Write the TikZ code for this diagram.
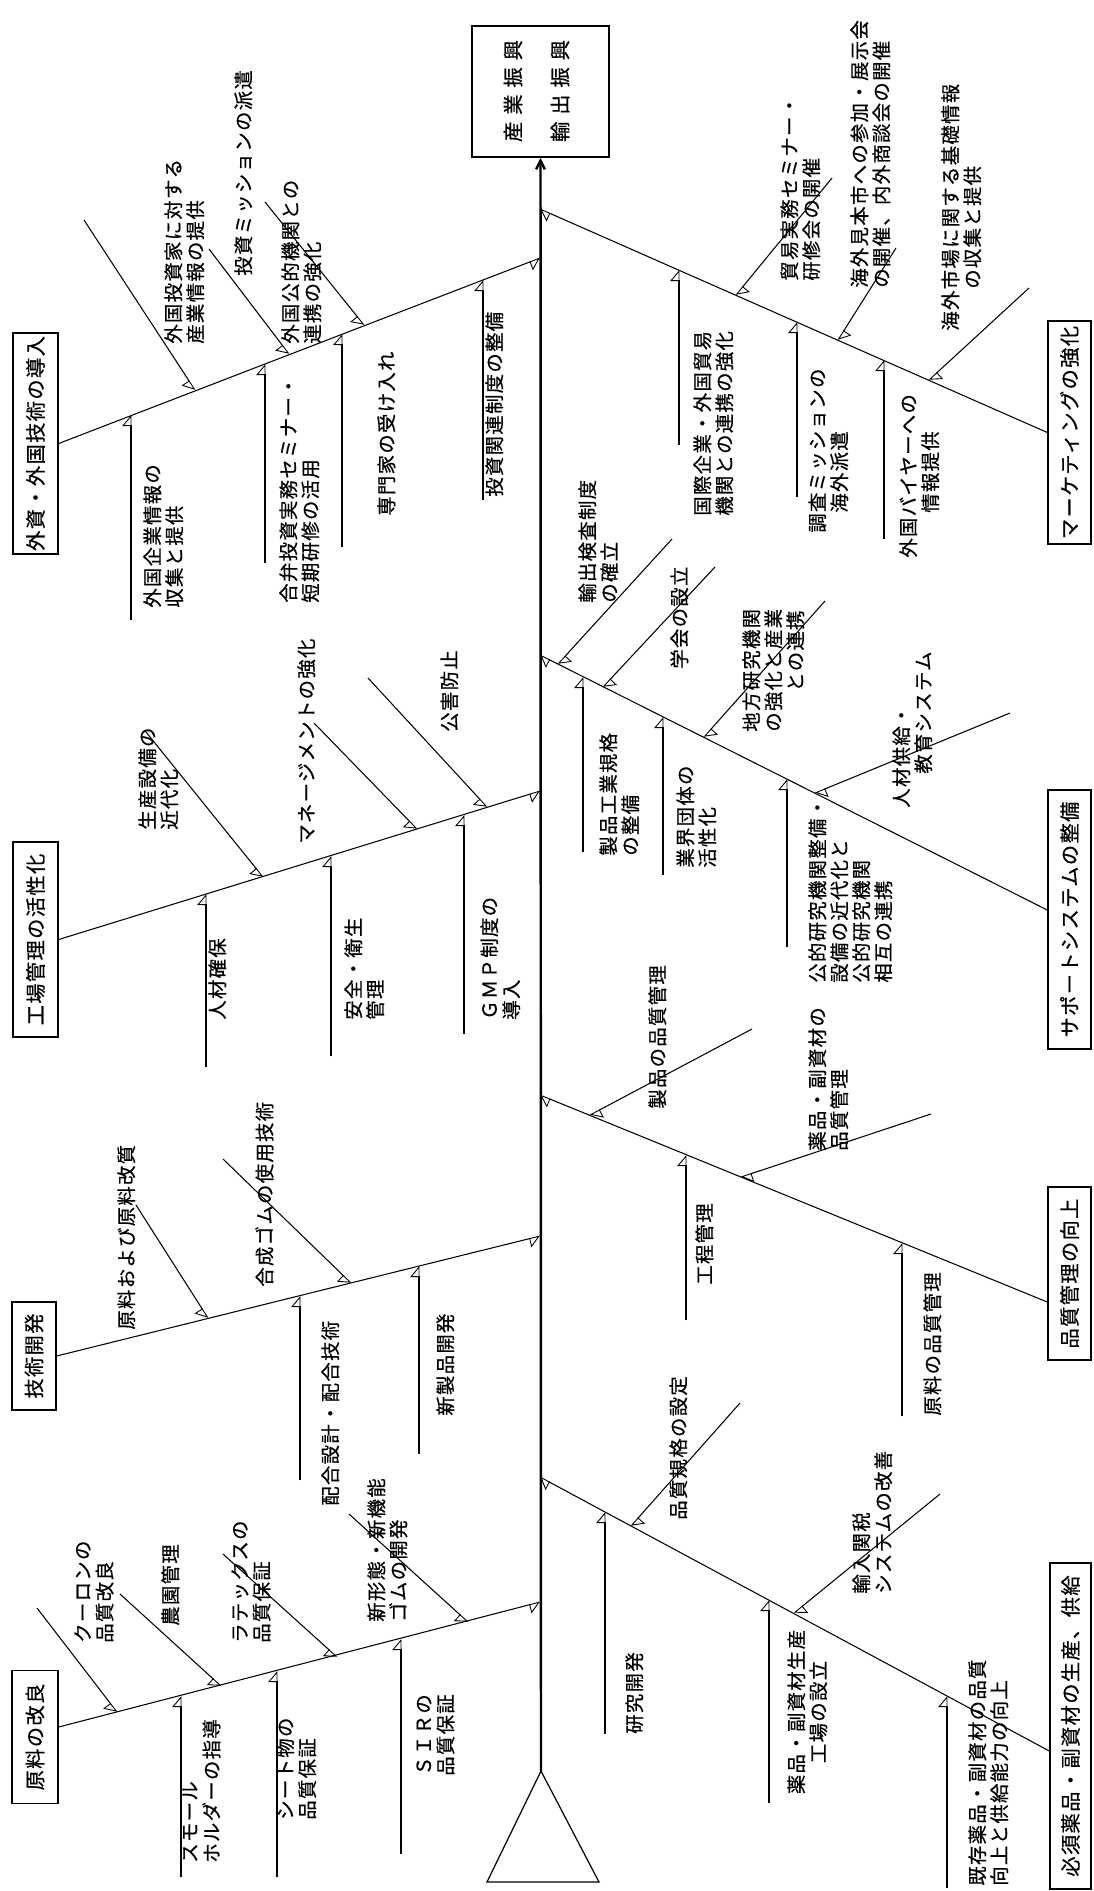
\documentclass[tikz,border=0pt]{standalone}
\usepackage{fontspec}
\setmainfont{Noto Sans CJK JP}
\newfontfamily\jpf[LetterSpace=7,FakeBold=0.6]{Noto Sans CJK JP}
\usetikzlibrary{arrows.meta,calc}
\newcommand\lblfont{\jpf\fontsize{11pt}{12.5pt}\selectfont}
\newcommand\catfont{\jpf\fontsize{11.5pt}{13pt}\selectfont}
\begin{document}
\begin{tikzpicture}[x=0.02cm,y=-0.02cm,
  bone/.style={line width=0.6pt},
  vbone/.style={line width=0.8pt},
  spine/.style={line width=1.4pt},
  hl/.style={-{Triangle[open,left,length=6pt,width=10pt,line width=0.5pt]}},
  hr/.style={-{Triangle[open,right,length=6pt,width=10pt,line width=0.5pt]}},
  lbl/.style={rotate=90,inner sep=0pt,font=\lblfont,align=left,anchor=north west},
  catbox/.style={draw,line width=0.8pt,rotate=90,inner sep=0pt,font=\catfont}]
\useasboundingbox (0,0) rectangle (1093,1891);

% head box
\node[draw,line width=0.9pt,minimum width=2.74cm,minimum height=2.62cm,inner sep=0pt] (head) at (540.5,91.5) {};
\node[rotate=90,font=\catfont,inner sep=0pt] (head1) at (513,91) {産\hspace{0.14cm}業\hspace{0.14cm}振\hspace{0.14cm}興};
\node[rotate=90,font=\catfont,inner sep=0pt] (head2) at (560,91) {輸\hspace{0.14cm}出\hspace{0.14cm}振\hspace{0.14cm}興};

% category boxes
\node[catbox,minimum width=4.42cm,minimum height=0.9cm] (box1) at (35.5,443.5) {外資・外国技術の導入};
\node[catbox,minimum width=3.9cm,minimum height=0.9cm] (box2) at (35.5,939.5) {工場管理の活性化};
\node[catbox,minimum width=2.16cm,minimum height=0.88cm] (box3) at (34,1356) {技術開発};
\node[catbox,minimum width=2.66cm,minimum height=0.92cm] (box4) at (35,1737) {原料の改良};
\node[catbox,minimum width=4.46cm,minimum height=0.86cm] (box5) at (1069.5,432.5) {マーケティングの強化};
\node[catbox,minimum width=5.18cm,minimum height=0.86cm] (box6) at (1069.5,919.5) {サポートシステムの整備};
\node[catbox,minimum width=3.46cm,minimum height=0.86cm] (box7) at (1069.5,1273.5) {品質管理の向上};
\node[catbox,minimum width=6.52cm,minimum height=0.82cm] (box8) at (1070.5,1726) {必須薬品・副資材の生産、供給};

% spine and tail
\coordinate (apex) at (541,1771);
\coordinate (tl) at (487,1882);
\coordinate (tr) at (599,1882);
\draw[line width=0.7pt] (apex) -- (tl) -- (tr) -- cycle;
\draw[spine,-{Straight Barb[length=5pt,width=5pt]}] (apex) -- (head.south);

% spine points
\coordinate (sp1) at (540,258);
\coordinate (sp2) at (540,791);
\coordinate (sp3) at (540,1236);
\coordinate (sp4) at (540,1602);
\coordinate (sp5) at (540,209);
\coordinate (sp6) at (540,655);
\coordinate (sp7) at (540,1095);
\coordinate (sp8) at (540,1477);

% main bones
\draw[bone,hr] (box1.south) -- (sp1);
\draw[bone,hr] (box2.south) -- (sp2);
\draw[bone,hr] (box3.south) -- (sp3);
\draw[bone,hr] ($(box4.south)+(0,-10)$) -- (sp4);
\draw[bone,hl] (box5.north) -- (sp5);
\draw[bone,hl] ($(box6.north)+(0,-9.5)$) -- (sp6);
\draw[bone,hl] ($(box7.north)+(0,28.5)$) -- (sp7);
\draw[bone,hl] ($(box8.north)+(0,25)$) -- (sp8);

% ---- branch 1 ----
\coordinate (a1x) at (84,220);   \coordinate (a1y) at (195,390);
\coordinate (a2x) at (209,249);  \coordinate (a2y) at (289,354);
\coordinate (a3x) at (265,202);  \coordinate (a3y) at (364,325);
\coordinate (b1x) at (131,620);  \coordinate (b1y) at (131,415);
\coordinate (b2x) at (265,563);  \coordinate (b2y) at (265,364);
\coordinate (b3x) at (342,547);  \coordinate (b3y) at (342,334);
\coordinate (b4x) at (483,500);  \coordinate (b4y) at (483,280);
\foreach \n in {a1,a2,a3} \draw[bone,hr] (\n x) -- (\n y);
\foreach \n in {b1,b2,b3,b4} \draw[vbone,hl] (\n x) -- (\n y);
\node[lbl] (tA1) at (164,344) {外国投資家に対する\\産業情報の提供};
\node[lbl] (tA2) at (281,344) {外国公的機関との\\連携の強化};
\node[lbl] (tA3) at (234,276) {投資ミッションの派遣};
\node[lbl] (tB1) at (143,608) {外国企業情報の\\収集と提供};
\node[lbl] (tB2) at (279,603) {合弁投資実務セミナー・\\短期研修の活用};
\node[lbl] (tB3) at (377,516) {専門家の受け入れ};
\node[lbl] (tB4) at (485,497) {投資関連制度の整備};

% ---- branch 2 ----
\coordinate (c1x) at (146,732);  \coordinate (c1y) at (263,877);
\coordinate (c2x) at (314,723);  \coordinate (c2y) at (417,829);
\coordinate (c3x) at (368,678);  \coordinate (c3y) at (487,807);
\coordinate (d1x) at (206,1067); \coordinate (d1y) at (206,894);
\coordinate (d2x) at (331,1056); \coordinate (d2y) at (331,856);
\coordinate (d3x) at (464,1034); \coordinate (d3y) at (464,815);
\foreach \n in {c1,c2,c3} \draw[bone,hr] (\n x) -- (\n y);
\foreach \n in {d1,d2,d3} \draw[vbone,hl] (\n x) -- (\n y);
\node[lbl] (tC1) at (138,830) {生産設備の\\近代化};
\node[lbl] (tC2) at (297,844) {マネージメントの強化};
\node[lbl] (tC3) at (440,732) {公害防止};
\node[lbl] (tD1) at (208,1020) {人材確保};
\node[lbl] (tD2) at (344,1020) {安全・衛生\\管理};
\node[lbl] (tD3) at (480,1020) {ＧＭＰ制度の\\導入};

% ---- branch 3 ----
\coordinate (e1x) at (136,1205); \coordinate (e1y) at (208,1318);
\coordinate (e2x) at (223,1159); \coordinate (e2y) at (351,1283);
\coordinate (f1x) at (300,1480); \coordinate (f1y) at (300,1296);
\coordinate (f2x) at (419,1454); \coordinate (f2y) at (419,1266);
\foreach \n in {e1,e2} \draw[bone,hr] (\n x) -- (\n y);
\foreach \n in {f1,f2} \draw[vbone,hl] (\n x) -- (\n y);
\node[lbl] (tE1) at (117,1330) {原料および原料改質};
\node[lbl] (tE2) at (255,1287) {合成ゴムの使用技術};
\node[lbl] (tF1) at (321,1506) {配合設計・配合技術};
\node[lbl] (tF2) at (436,1416) {新製品開発};

% ---- branch 4 ----
\coordinate (g1x) at (37,1608);  \coordinate (g1y) at (117,1712);
\coordinate (g2x) at (120,1594); \coordinate (g2y) at (221,1686);
\coordinate (g3x) at (223,1554); \coordinate (g3y) at (337,1657);
\coordinate (g4x) at (349,1514); \coordinate (g4y) at (468,1622);
\coordinate (h1x) at (181,1877); \coordinate (h1y) at (181,1696);
\coordinate (h2x) at (277,1877); \coordinate (h2y) at (277,1671);
\coordinate (h3x) at (401,1854); \coordinate (h3y) at (401,1639);
\foreach \n in {g1,g2,g3,g4} \draw[bone,hr] (\n x) -- (\n y);
\foreach \n in {h1,h2,h3} \draw[vbone,hl] (\n x) -- (\n y);
\node[lbl] (tG1) at (74,1643) {クーロンの\\品質改良};
\node[lbl] (tG2) at (161,1626) {農園管理};
\node[lbl] (tG3) at (231,1643) {ラテックスの\\品質保証};
\node[lbl] (tG4) at (367,1622) {新形態・新機能\\ゴムの開発};
\node[lbl] (tH1) at (182,1863) {スモール\\ホルダーの指導};
\node[lbl] (tH2) at (276,1820) {シート物の\\品質保証};
\node[lbl] (tH3) at (416,1776) {ＳＩＲの\\品質保証};

% ---- branch 5 ----
\coordinate (i1x) at (832,178);  \coordinate (i1y) at (736,295);
\coordinate (i2x) at (896,248);  \coordinate (i2y) at (838,340);
\coordinate (i3x) at (1029,288); \coordinate (i3y) at (929,380);
\coordinate (j1x) at (679,445);  \coordinate (j1y) at (679,270);
\coordinate (j2x) at (797,497);  \coordinate (j2y) at (797,322);
\coordinate (j3x) at (884,539);  \coordinate (j3y) at (884,360);
\foreach \n in {i1,i2,i3} \draw[bone,hl] (\n x) -- (\n y);
\foreach \n in {j1,j2,j3} \draw[vbone,hl] (\n x) -- (\n y);
\node[lbl] (tI1) at (780,281) {貿易実務セミナー・\\研修会の開催};
\node[lbl] (tI2) at (850,288) {海外見本市への参加・展示会\\の開催、内外商談会の開催};
\node[lbl] (tI3) at (941,331) {海外市場に関する基礎情報\\\hspace*{0.84cm}の収集と提供};
\node[lbl] (tJ1) at (693,516) {国際企業・外国貿易\\機関との連携の強化};
\node[lbl] (tJ2) at (808,533) {調査ミッションの\\\hspace*{0.4cm}海外派遣};
\node[lbl] (tJ3) at (899,558) {外国バイヤーへの\\\hspace*{0.9cm}情報提供};

% ---- branch 6 ----
\coordinate (k1x) at (672,539);  \coordinate (k1y) at (558,664);
\coordinate (k2x) at (715,567);  \coordinate (k2y) at (603,687);
\coordinate (k3x) at (825,601);  \coordinate (k3y) at (704,737);
\coordinate (k4x) at (1010,713); \coordinate (k4y) at (815,793);
\coordinate (l1x) at (583,852);  \coordinate (l1y) at (583,677);
\coordinate (l2x) at (663,875);  \coordinate (l2y) at (663,717);
\coordinate (l3x) at (787,947);  \coordinate (l3y) at (787,779);
\foreach \n in {k1,k2,k3,k4} \draw[bone,hl] (\n x) -- (\n y);
\foreach \n in {l1,l2,l3} \draw[vbone,hl] (\n x) -- (\n y);
\node[lbl] (tK1) at (578,603) {輸出検査制度\\の確立};
\node[lbl] (tK2) at (670,669) {学会の設立};
\node[lbl] (tK3) at (742,732) {地方研究機関\\の強化と産業\\\phantom{地方}との連携};
\node[lbl] (tK4) at (892,808) {人材供給・\\\hspace*{0.68cm}教育システム};
\node[lbl] (tL1) at (599,856) {製品工業規格\\の整備};
\node[lbl] (tL2) at (676,868) {業界団体の\\活性化};
\node[lbl] (tL3) at (808,983) {公的研究機関整備・\\設備の近代化と\\公的研究機関\\相互の連携};

% ---- branch 7 ----
\coordinate (m1x) at (752,1029); \coordinate (m1y) at (590,1115);
\coordinate (m2x) at (931,1114); \coordinate (m2y) at (741,1177);
\coordinate (n1x) at (686,1320); \coordinate (n1y) at (686,1155);
\coordinate (n2x) at (902,1416); \coordinate (n2y) at (902,1243);
\foreach \n in {m1,m2} \draw[bone,hl] (\n x) -- (\n y);
\foreach \n in {n1,n2} \draw[vbone,hl] (\n x) -- (\n y);
\node[lbl] (tM1) at (648,1109) {製品の品質管理};
\node[lbl] (tM2) at (808,1151) {薬品・副資材の\\品質管理};
\node[lbl] (tN1) at (695,1285) {工程管理};
\node[lbl] (tN2) at (923,1416) {原料の品質管理};

% ---- branch 8 ----
\coordinate (o1x) at (740,1403); \coordinate (o1y) at (631,1526);
\coordinate (o2x) at (940,1494); \coordinate (o2y) at (794,1613);
\coordinate (p1x) at (605,1734); \coordinate (p1y) at (605,1512);
\coordinate (p2x) at (769,1803); \coordinate (p2y) at (769,1600);
\coordinate (p3x) at (947,1888); \coordinate (p3y) at (947,1696);
\foreach \n in {o1,o2} \draw[bone,hl] (\n x) -- (\n y);
\foreach \n in {p1,p2,p3} \draw[vbone,hl] (\n x) -- (\n y);
\node[lbl] (tO1) at (669,1520) {品質規格の設定};
\node[lbl] (tO2) at (852,1594) {輸入関税\\システムの改善};
\node[lbl] (tP1) at (625,1734) {研究開発};
\node[lbl,anchor=north,align=center] (tP2) at (787,1712) {薬品・副資材生産\\工場の設立};
\node[lbl] (tP3) at (968,1886) {既存薬品・副資材の品質\\向上と供給能力の向上};
\end{tikzpicture}
\end{document}
